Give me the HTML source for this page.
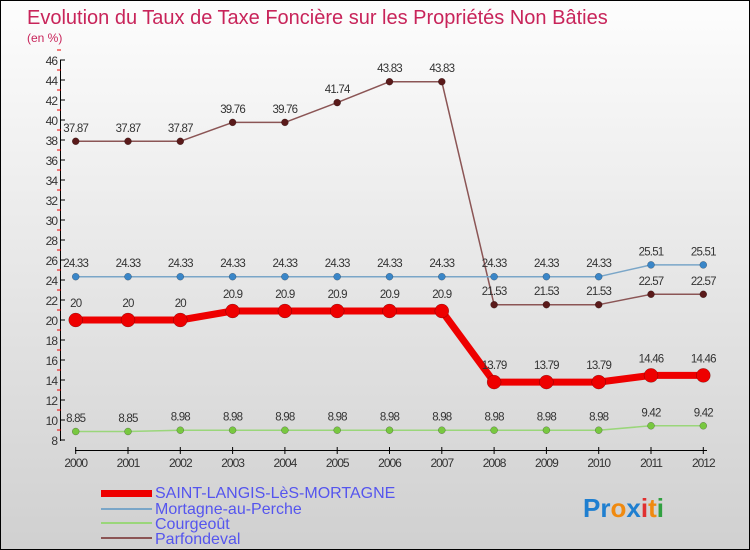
<!DOCTYPE html>
<html><head><meta charset="utf-8"><style>
body{margin:0}
#c{width:748px;height:548px;border:1px solid #000;background:linear-gradient(#fdfdfd,#d0d0d0);position:relative;overflow:hidden;font-family:"Liberation Sans",sans-serif}
</style></head><body>
<div id="c">
<svg id="s" width="748" height="548">
<text x="26" y="23" font-size="20" fill="#c8245a">Evolution du Taux de Taxe Foncière sur les Propriétés Non Bâties</text>
<text x="26" y="41" font-size="12" fill="#c8245a">(en %)</text>
<g id="axes"></g><g id="series"></g>
<g>
<rect x="100" y="489" width="51" height="7" fill="#e00"/>
<text x="154" y="497" font-size="16" fill="#5555ee">SAINT-LANGIS-LèS-MORTAGNE</text>
<rect x="100" y="507" width="51" height="2" fill="#7aa6c8"/>
<text x="154" y="513" font-size="16" fill="#5555ee">Mortagne-au-Perche</text>
<rect x="100" y="521" width="51" height="2" fill="#9ad67a"/>
<text x="154" y="528" font-size="16" fill="#5555ee">Courgeoût</text>
<rect x="100" y="536" width="51" height="2" fill="#8b5555"/>
<text x="154" y="543" font-size="16" fill="#5555ee">Parfondeval</text>
</g>
<text x="582" y="516" font-size="26" font-weight="bold"><tspan fill="#1f7fd0">Pr</tspan><tspan fill="#f08a10">o</tspan><tspan fill="#1f7fd0">x</tspan><tspan fill="#e03030">i</tspan><tspan fill="#f08a10">t</tspan><tspan fill="#30a040">i</tspan></text>
</svg></div>
<script>
const years=["2000","2001","2002","2003","2004","2005","2006","2007","2008","2009","2010","2011","2012"];
const saint=[20,20,20,20.9,20.9,20.9,20.9,20.9,13.79,13.79,13.79,14.46,14.46];
const saintLbl=["20","20","20","20.9","20.9","20.9","20.9","20.9","13.79","13.79","13.79","14.46","14.46"];
const mortagne=[24.33,24.33,24.33,24.33,24.33,24.33,24.33,24.33,24.33,24.33,24.33,25.51,25.51];
const courgeout=[8.85,8.85,8.98,8.98,8.98,8.98,8.98,8.98,8.98,8.98,8.98,9.42,9.42];
const parfondeval=[37.87,37.87,37.87,39.76,39.76,41.74,43.83,43.83,21.53,21.53,21.53,22.57,22.57];
const yTicks=[8,10,12,14,16,18,20,22,24,26,28,30,32,34,36,38,40,42,44,46];
const NS="http://www.w3.org/2000/svg";
const X=i=>74.7+i*52.3, Y=v=>439-(v-8)*10;
function mk(t,a,p){const e=document.createElementNS(NS,t);for(const k in a)e.setAttribute(k,a[k]);p.appendChild(e);return e;}
const ax=document.getElementById('axes'), sg=document.getElementById('series');
let l=mk('line',{x1:59.5,y1:59,x2:59.5,y2:440,stroke:'#000'},ax);


yTicks.forEach(v=>{
 mk('line',{x1:59,y1:Y(v),x2:64,y2:Y(v),stroke:'#000'},ax);
 mk('line',{x1:56,y1:Y(v+1),x2:60,y2:Y(v+1),stroke:'#e00'},ax);
 const t=mk('text',{x:56,y:Y(v)+5,'font-size':12,fill:'#333','text-anchor':'end','letter-spacing':'-1'},ax);t.textContent=v;
 
 
});
l=mk('line',{x1:74,y1:449.5,x2:706,y2:449.5,stroke:'#000'},ax);


years.forEach((y,i)=>{
 mk('line',{x1:X(i),y1:446,x2:X(i),y2:453,stroke:'#000'},ax);
 const t=mk('text',{x:X(i),y:466,'font-size':12,fill:'#333','text-anchor':'middle','letter-spacing':'-1'},ax);t.textContent=y;
 
 
});
function series(vals,lbls,col,dot,w,r,name){
 const g=mk('g',{},sg);
 
 
 const p=mk('polyline',{points:vals.map((v,i)=>X(i)+','+Y(v)).join(' '),fill:'none',stroke:col,'stroke-width':w,'stroke-linejoin':'round'},g);
 
 
 vals.forEach((v,i)=>{
  const c=mk('circle',{cx:X(i),cy:Y(v),r:r,fill:dot,stroke:'rgba(0,0,0,0.4)','stroke-width':0.5},g);
  
  
  const t=mk('text',{x:X(i),y:Y(v)-(r+6),'font-size':11.5,fill:'#333','text-anchor':'middle','letter-spacing':'-0.8'},g);
  t.textContent=lbls?lbls[i]:String(v);
  
  
 });
}
series(parfondeval,null,'#8b5555','#5a1a1a',1.5,3.5,'parfondeval');
series(mortagne,null,'#7aa6c8','#3a86c8',1.5,3.5,'mortagne');
series(courgeout,null,'#9ad67a','#78c840',1.5,3.5,'courgeout');
series(saint,saintLbl,'#e00','#e00',7,7,'saint-langis');
</script>
</body></html>
